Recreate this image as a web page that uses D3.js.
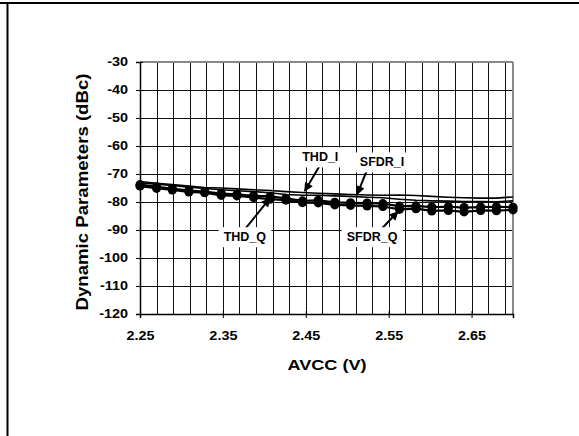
<!DOCTYPE html>
<html>
<head>
<meta charset="utf-8">
<script src="https://cdn.jsdelivr.net/npm/d3@7"></script>
<style>
html,body{margin:0;padding:0;background:#fff;}
svg{display:block;}
text{font-family:"Liberation Sans",Arial,sans-serif;font-weight:bold;fill:#000;}
</style>
</head>
<body>
<svg id="chart" width="579" height="436"></svg>
<script>
const avcc = [2.250, 2.270, 2.289, 2.309, 2.328, 2.348, 2.367, 2.387, 2.407, 2.426, 2.446, 2.465,
              2.485, 2.504, 2.524, 2.543, 2.563, 2.583, 2.602, 2.622, 2.641, 2.661, 2.680, 2.700];
const thdI  = [-72.7, -73.3, -73.8, -74.3, -74.8, -75.0, -75.3, -75.6, -75.9, -76.3, -76.6, -76.9,
               -77.1, -77.3, -77.5, -77.6, -77.5, -77.7, -78.0, -78.3, -78.5, -78.6, -78.6, -78.2];
const sfdrI = [-73.2, -73.6, -74.1, -74.7, -75.2, -75.6, -76.0, -76.3, -76.7, -77.3, -77.6, -77.6,
               -77.8, -78.0, -78.3, -78.5, -79.0, -79.4, -79.6, -79.7, -79.8, -79.8, -79.9, -79.6];
const thdQ  = [-73.8, -74.6, -75.2, -75.9, -76.3, -77.0, -77.3, -77.8, -78.0, -78.7, -79.6, -79.4,
               -80.1, -80.3, -80.4, -80.6, -81.5, -81.4, -81.8, -81.7, -82.0, -81.8, -81.7, -81.9];
const sfdrQ = [-74.3, -75.1, -75.7, -76.4, -76.7, -77.6, -77.8, -78.4, -79.0, -79.3, -80.2, -80.3,
               -81.0, -81.2, -81.4, -81.6, -82.6, -82.4, -83.2, -83.0, -83.5, -83.0, -83.1, -82.8];
const xTicks = [2.25, 2.35, 2.45, 2.55, 2.65];
const xGrid = [2.27, 2.29, 2.31, 2.33, 2.35, 2.37, 2.39, 2.41, 2.43, 2.45, 2.47, 2.49, 2.51,
               2.53, 2.55, 2.57, 2.59, 2.61, 2.63, 2.65, 2.67, 2.69];
const yTicks = [-30, -40, -50, -60, -70, -80, -90, -100, -110, -120];
const labels = [
  {name: "THD_I",  lx: 2.4675, ly: -63.9, sx: 2.4678, sy: -66.5, tx: 2.4488, ty: -76.1},
  {name: "SFDR_I", lx: 2.542,  ly: -65.7, sx: 2.5247, sy: -68.0, tx: 2.512,  ty: -77.25},
  {name: "THD_Q",  lx: 2.3765, ly: -92.4, sx: 2.3745, sy: -90.5, tx: 2.4066, ty: -78.7},
  {name: "SFDR_Q", lx: 2.530,  ly: -92.4, sx: 2.537,  sy: -91.0, tx: 2.561,  ty: -83.5}
];

const svg = d3.select("#chart");
const L = 140, R = 513, T = 62, B = 314;
const x = d3.scaleLinear().domain([2.25, 2.70]).range([L, R]);
const y = d3.scaleLinear().domain([-120, -30]).range([B, T]);

function stretch(sel, k) {
  sel.each(function () {
    const w = this.getComputedTextLength();
    d3.select(this).attr("textLength", w * k).attr("lengthAdjust", "spacingAndGlyphs");
  });
}

// outer frame (top and left)
svg.append("line").attr("x1", 0).attr("x2", 579).attr("y1", 3).attr("y2", 3)
  .attr("stroke", "#000").attr("stroke-width", 2);
svg.append("line").attr("x1", 7.5).attr("x2", 7.5).attr("y1", 2).attr("y2", 436)
  .attr("stroke", "#000").attr("stroke-width", 2);

// grid
const g = svg.append("g");
g.selectAll("line.vg").data(xGrid).enter().append("line")
  .attr("x1", d => Math.round(x(d)) + 0.5).attr("x2", d => Math.round(x(d)) + 0.5)
  .attr("y1", T).attr("y2", B).attr("stroke", "#111").attr("stroke-width", 1);
g.selectAll("line.hg").data(yTicks.slice(1, -1)).enter().append("line")
  .attr("x1", L).attr("x2", R)
  .attr("y1", d => Math.round(y(d)) + 0.5).attr("y2", d => Math.round(y(d)) + 0.5)
  .attr("stroke", "#111").attr("stroke-width", 1);
// top and right border (gray)
svg.append("line").attr("x1", L).attr("x2", R).attr("y1", T).attr("y2", T)
  .attr("stroke", "#888").attr("stroke-width", 2);
svg.append("line").attr("x1", R).attr("x2", R).attr("y1", T).attr("y2", B)
  .attr("stroke", "#888").attr("stroke-width", 2);

// axes
const yAxis = d3.axisLeft(y).tickValues(yTicks).tickSize(4).tickPadding(8).tickFormat(d => String(d));
const ya = svg.append("g").attr("transform", `translate(${L},0)`).call(yAxis);
ya.select(".domain").attr("stroke", "#000").attr("stroke-width", 1.5);
ya.selectAll(".tick line").attr("stroke", "#000").attr("x2", 3).attr("x1", -4);
ya.selectAll("text").style("font-size", "12px").style("font-family", "Liberation Sans, Arial, sans-serif").style("font-weight", "bold");
stretch(ya.selectAll("text"), 1.2);

const xAxis = d3.axisBottom(x).tickValues(xTicks).tickSize(4).tickPadding(13).tickFormat(d3.format(".2f"));
const xa = svg.append("g").attr("transform", `translate(0,${B})`).call(xAxis);
xa.select(".domain").attr("stroke", "#000").attr("stroke-width", 1.5);
xa.selectAll(".tick line").attr("stroke", "#000").attr("y1", -3).attr("y2", 4);
xa.selectAll("text").style("font-size", "12px").style("font-family", "Liberation Sans, Arial, sans-serif").style("font-weight", "bold");
stretch(xa.selectAll("text"), 1.2);

// axis titles
const xt = svg.append("text").attr("x", 327).attr("y", 370).attr("text-anchor", "middle")
  .style("font-size", "14.5px").text("AVCC (V)");
xt.attr("textLength", 79).attr("lengthAdjust", "spacingAndGlyphs");
const yt = svg.append("text").attr("transform", `translate(88,${(T + B) / 2 + 4}) rotate(-90)`)
  .attr("text-anchor", "middle").style("font-size", "16px").text("Dynamic Parameters (dBc)");
yt.attr("textLength", 237).attr("lengthAdjust", "spacingAndGlyphs");

// series
const line = d3.line().x(d => x(d[0])).y(d => y(d[1]));
const series = [
  {v: thdI,  w: 1.6, m: false},
  {v: sfdrI, w: 1.6, m: false},
  {v: thdQ,  w: 2.2, m: true},
  {v: sfdrQ, w: 2.2, m: true}
];
series.forEach(s => {
  const pts = avcc.map((a, i) => [a, s.v[i]]);
  svg.append("path").datum(pts).attr("d", line).attr("fill", "none")
    .attr("stroke", "#000").attr("stroke-width", s.w);
  if (s.m) {
    svg.append("g").selectAll("circle").data(pts).enter().append("circle")
      .attr("cx", d => x(d[0])).attr("cy", d => y(d[1])).attr("r", 4.6).attr("fill", "#000");
  }
});

// annotations
svg.append("defs").append("marker").attr("id", "ah").attr("viewBox", "0 0 10 10")
  .attr("refX", 9).attr("refY", 5).attr("markerWidth", 5).attr("markerHeight", 4.5)
  .attr("orient", "auto").attr("markerUnits", "strokeWidth")
  .append("path").attr("d", "M0,0 L10,5 L0,10 z").attr("fill", "#000");

labels.forEach(l => {
  svg.append("line").attr("x1", x(l.sx)).attr("y1", y(l.sy)).attr("x2", x(l.tx)).attr("y2", y(l.ty))
    .attr("stroke", "#000").attr("stroke-width", 2).attr("marker-end", "url(#ah)");
});
labels.forEach(l => {
  const lx = x(l.lx), ly = y(l.ly);
  const t = svg.append("text").attr("x", lx).attr("y", ly + 4.5).attr("text-anchor", "middle")
    .style("font-size", "12.5px").text(l.name);
  const bb = t.node().getBBox();
  svg.insert("rect", () => t.node()).attr("x", bb.x - 5).attr("y", bb.y - 3)
    .attr("width", bb.width + 10).attr("height", bb.height + 6).attr("fill", "#fff");
});
</script>
</body>
</html>
